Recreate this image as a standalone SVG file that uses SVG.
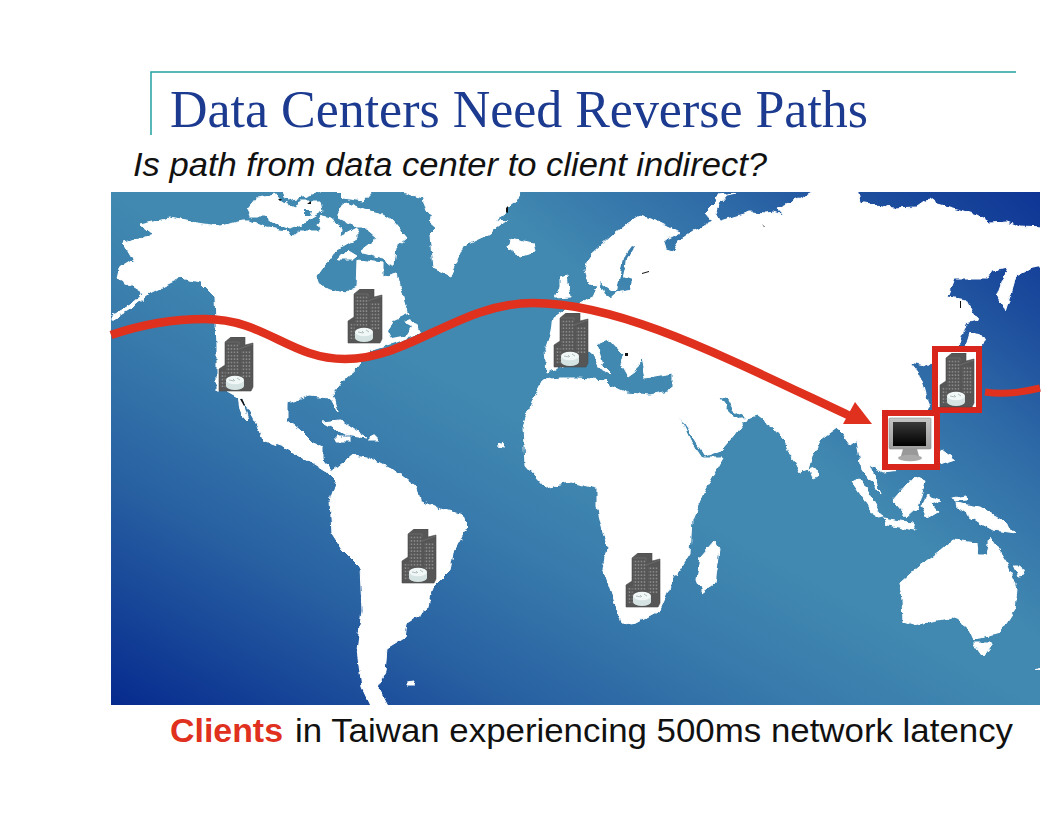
<svg xmlns="http://www.w3.org/2000/svg" width="1056" height="816" viewBox="0 0 1056 816">
<style>
.land{fill:#fff;stroke:#fff;stroke-width:1}
.sea{fill:url(#seaFill)}
.route{fill:none;stroke:#e0301e;stroke-width:8.5}
.box{fill:#fff;stroke:#d9261c;stroke-width:6}
.mark{fill:#111}
</style>
<defs>
<linearGradient id="bl" gradientUnits="userSpaceOnUse" x1="111" y1="705" x2="328" y2="312">
<stop offset="0" stop-color="#062a8e" stop-opacity="1"/>
<stop offset="0.2" stop-color="#062a8e" stop-opacity=".74"/>
<stop offset="0.45" stop-color="#062a8e" stop-opacity=".42"/>
<stop offset="0.75" stop-color="#062a8e" stop-opacity=".15"/>
<stop offset="1" stop-color="#062a8e" stop-opacity="0"/>
</linearGradient>
<linearGradient id="tr" gradientUnits="userSpaceOnUse" x1="1040" y1="192" x2="821" y2="465">
<stop offset="0" stop-color="#0e3595" stop-opacity="1"/>
<stop offset="0.3" stop-color="#0e3595" stop-opacity=".72"/>
<stop offset="0.6" stop-color="#0e3595" stop-opacity=".36"/>
<stop offset="1" stop-color="#0e3595" stop-opacity="0"/>
</linearGradient>
<pattern id="seaFill" patternUnits="userSpaceOnUse" x="0" y="0" width="1056" height="816">
<rect width="1056" height="816" fill="#4189b1"/>
<rect width="1056" height="816" fill="url(#bl)"/>
<rect width="1056" height="816" fill="url(#tr)"/>
</pattern>
<clipPath id="mapClip"><rect x="111" y="192" width="929" height="513"/></clipPath>
<filter id="rough" x="-2%" y="-2%" width="104%" height="104%">
<feTurbulence type="fractalNoise" baseFrequency="0.13" numOctaves="2" seed="4" result="n"/>
<feDisplacementMap in="SourceGraphic" in2="n" scale="6" xChannelSelector="R" yChannelSelector="G"/>
</filter>
<linearGradient id="screen" x1="0" y1="0" x2="0" y2="1">
<stop offset="0" stop-color="#3a3a3a"/>
<stop offset="1" stop-color="#000"/>
</linearGradient>
<linearGradient id="bezel" x1="0" y1="0" x2="0" y2="1">
<stop offset="0" stop-color="#c4c4c4"/>
<stop offset="1" stop-color="#9c9c9c"/>
</linearGradient>
<pattern id="win" width="3" height="3.4" patternUnits="userSpaceOnUse">
<rect width="3" height="3.4" fill="#565656"/>
<rect x="0.7" y="1" width="1.5" height="1.5" fill="#8f8f8f"/>
</pattern>
<symbol id="dc" width="37" height="55" viewBox="0 0 37 55">
<path d="M7,5L13,0H27V8L35,6V50L33,54H1V32L7,28Z" fill="#565656" stroke="#4a4a4a" stroke-width=".6"/>
<path d="M7,5H21V8" fill="none" stroke="#777" stroke-width=".6"/>
<path d="M21,12L35,7" fill="none" stroke="#777" stroke-width=".6"/>
<rect x="8" y="7" width="13" height="31" fill="url(#win)"/>
<rect x="23" y="14" width="10" height="27" fill="url(#win)"/>
<rect x="2.5" y="34" width="5" height="17" fill="url(#win)"/>
<path d="M8,43v6a9,4 0 0 0 18,0v-6Z" fill="#d5e3e3"/>
<ellipse cx="17" cy="43" rx="9" ry="4.2" fill="#f1f6f6"/>
<path d="M11,43l5,1M19,41l3,2M15,42l2,2" stroke="#8a9a9a" stroke-width=".6" fill="none"/>
</symbol>
</defs>
<rect width="1056" height="816" fill="#fff"/>
<g id="title">
<path d="M151,135V72H1016" fill="none" stroke="#22a0a0" stroke-width="1.5"/>
<text x="170" y="127" font-family="'Liberation Serif',serif" font-size="52" fill="#1c3b90" textLength="698" lengthAdjust="spacingAndGlyphs">Data Centers Need Reverse Paths</text>
<text x="133" y="176" font-family="'Liberation Sans',sans-serif" font-size="32.5" font-style="italic" fill="#111" textLength="634" lengthAdjust="spacingAndGlyphs">Is path from data center to client indirect?</text>
</g>
<g id="map" clip-path="url(#mapClip)">
<rect x="111" y="192" width="929" height="513" class="sea"/>
<g filter="url(#rough)">
<path class="land" d="M118,279L120,268L133,260L123,243L143,238L152,235L140,225L170,218L197,223L220,226L243,221L250,221L267,228L287,231L292,238L300,231L320,231L317,225L322,216L330,218L338,225L343,228L342,236L357,228L357,238L343,246L337,248L317,276L320,285L330,290L345,293L357,287L358,260L383,263L383,277L397,273L403,297L407,312L420,333L393,343L370,350L357,367L345,378L333,393L338,413L330,398L310,396L287,403L287,420L300,430L313,443L323,447L323,460L333,473L326,472L307,460L283,447L263,440L258,427L243,400L225,390L217,390L217,347L215,297L200,282L180,278L150,293L132,308L112,320L112,316L130,305L143,293L130,285Z"/>
<path class="sea" d="M388,330L395,320L412,312L415,317L403,322L412,327L407,335L392,338Z"/>
<path class="land" d="M238,395L243,403L248,420L243,418L240,410Z"/>
<path class="land" d="M247,210L257,198L277,195L283,203L295,208L300,201L320,201L322,211L310,218L303,224L290,228L272,222L265,216L250,216Z"/>
<path class="sea" d="M305,210L312,210L310,216L305,216Z"/>
<path class="land" d="M282,190L287,200L307,196L323,190ZM335,190L343,198L363,201L373,190Z"/>
<path class="land" d="M338,211L347,203L363,210L383,215L393,221L407,238L395,248L393,266L383,258L363,253L360,251L377,238L363,226L355,226L348,223L338,218Z"/>
<path class="land" d="M338,260L347,250L357,256L352,260Z"/>
<path class="land" d="M395,190L423,198L427,211L433,216L428,220L437,228L430,235L433,268L450,276L463,246L487,235L507,221L495,220L507,213L507,208L520,198L518,190Z"/>
<path class="land" d="M510,238L533,243L535,252L520,257L508,247Z"/>
<path class="land" d="M560,277L567,275L570,297L555,298L560,287Z"/>
<path class="land" d="M322,422L340,420L367,438L345,435Z"/>
<path class="land" d="M337,437H350V441H337ZM370,436H378V441H370ZM498,446L503,442L506,447Z"/>
<path class="land" d="M407,682L415,681L414,685L407,685Z"/>
<path class="land" d="M330,473L353,455L367,457L393,470L417,487L420,500L437,508L463,515L467,527L453,553L450,570L433,587L427,610L407,623L405,637L387,648L385,673L378,687L390,710H373L362,687L357,650L362,610L360,567L343,550L332,533L330,500L337,480Z"/>
<path class="land" d="M543,380L560,378L577,378L605,380L610,385L627,393L650,395L672,390L675,408L690,440L702,458L723,458L705,490L692,520L690,553L673,580L660,610L632,625L622,623L603,568L607,547L597,507L597,488L570,482L545,487L525,465L523,427L533,400Z"/>
<path class="land" d="M547,372L545,350L550,335L553,318L565,310L577,304L593,297L598,286L590,285L585,270L590,255L610,237L625,225L640,216L660,222L680,232L668,238L663,242L665,250L672,252L680,240L693,231L700,228L710,222L717,222L733,217L750,212L767,213L773,212L783,215L777,208L800,198L820,188L857,188L860,202L893,208L917,207L930,198L938,204L960,210L977,215L990,223L1007,222L1020,227L1045,228V266L1033,268L1017,273L1012,290L1005,312L997,295L1007,267L993,270L987,278L955,278L948,297L967,300L977,320L965,323L958,347L945,360L925,365L910,362L918,372L923,387L930,412L900,470L883,472L870,465L882,495L862,470L857,440L850,445L837,427L822,438L812,455L808,470L800,473L790,453L785,440L773,427L757,415L747,418L735,435L722,450L705,456L695,440L673,407L670,400L672,390L672,373L645,378L641,358L635,372L628,377L620,363L624,355L610,340L603,342L597,345L603,365L612,374L600,368L590,350L575,362L560,367Z"/>
<path class="sea" d="M600,283L605,295L612,297L618,292L630,290L632,280L623,277L627,260L635,247L632,246L623,258L620,275L617,290L610,290Z"/>
<path class="sea" d="M720,397L727,398L733,410L745,418L738,419L727,408Z"/>
<path class="land" d="M705,213L715,203L718,195L736,193L727,195L720,203L715,213L720,222L713,222Z"/>
<path class="land" d="M900,583L918,567L938,553L953,540L977,543L978,555L987,555L990,537L1007,563L1017,590L1015,610L1000,633L973,640L967,627L953,617L913,625L903,622L902,600Z"/>
<path class="land" d="M973,643L993,643L983,657Z"/>
<path class="land" d="M1036,670L1044,666V672Z"/>
<path class="land" d="M957,503L980,507L1003,520L1015,533L993,530L980,523L958,508Z"/>
<path class="land" d="M953,497L965,495L967,500L955,501Z"/>
<path class="land" d="M1013,565L1020,565L1025,575L1018,576Z"/>
<path class="land" d="M715,540L720,550L715,583L702,593L697,580L700,557Z"/>
<path class="land" d="M852,482L860,478L883,517L877,518Z"/>
<path class="land" d="M883,518L913,523L915,530L887,525Z"/>
<path class="land" d="M913,477L925,482L918,507L907,517L893,500Z"/>
<path class="land" d="M927,495L940,500L930,503L938,512L928,518L922,505Z"/>
<path class="land" d="M935,452L942,450L955,460L940,465Z"/>
<path class="land" d="M808,470L815,468L818,476L812,479Z"/>
<path class="land" d="M970,333L985,338L980,349L965,349Z"/>
</g>
<path class="mark" d="M240,399l2,0 3,6-1,1ZM278,199h4l-2,2ZM307,204l4-3v3ZM506,208l2-2v7l-2-1ZM642,273l7-2v1l-7,2ZM762,224l3,3h-1ZM960,301h1v7h-1ZM625,353h3v3h-3Z"/>
</g>
<g id="connectors">
<path class="route" d="M111,335C140,325 170,319 205,319C265,319 290,359 345,359C410,359 460,303 533,303C620,303 720,355 850,416"/>
<path d="M855,402L843,424H872Z" fill="#e0301e"/>
<path class="route" style="stroke-width:7" d="M985,392C1003,395 1020,393 1040,388"/>
</g>
<g id="dc-california"><use href="#dc" x="218" y="337"/></g>
<g id="dc-canada"><use href="#dc" x="347" y="289"/></g>
<g id="dc-spain"><use href="#dc" x="553" y="313"/></g>
<g id="dc-brazil"><use href="#dc" x="401" y="529"/></g>
<g id="dc-south-africa"><use href="#dc" x="625" y="553"/></g>
<g id="dc-japan">
<rect class="box" x="935" y="349" width="44" height="61"/>
<use href="#dc" x="939" y="353"/>
</g>
<g id="client">
<rect class="box" x="885" y="413" width="52" height="54"/>
<path d="M903,449H917L919,456H901Z" fill="#999"/>
<ellipse cx="910" cy="458" rx="12" ry="3.2" fill="#aaa"/>
<rect x="889" y="418" width="42" height="31" rx="1" fill="url(#bezel)" stroke="#8e8e8e" stroke-width=".6"/>
<rect x="893" y="422" width="33" height="24" fill="url(#screen)"/>
</g>
<g id="caption">
<text x="170" y="742" font-family="'Liberation Sans',sans-serif" font-size="33.5" font-weight="bold" fill="#e0301e" textLength="113" lengthAdjust="spacingAndGlyphs">Clients</text>
<text x="295" y="742" font-family="'Liberation Sans',sans-serif" font-size="33.5" fill="#111" textLength="718" lengthAdjust="spacingAndGlyphs">in Taiwan experiencing 500ms network latency</text>
</g>
</svg>
